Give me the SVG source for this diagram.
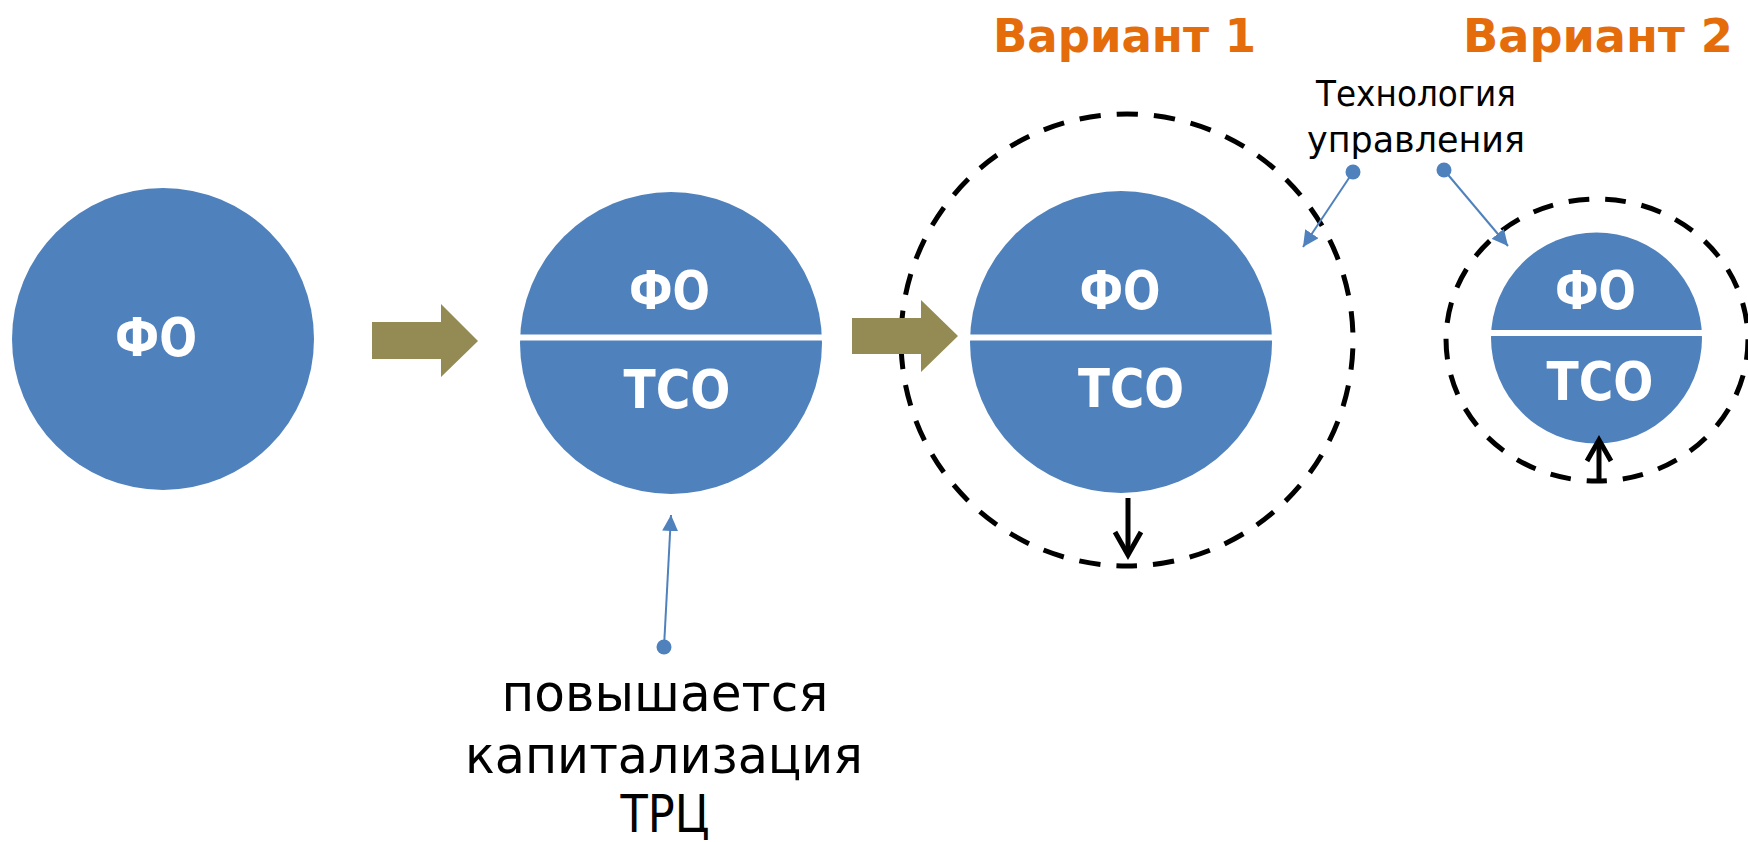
<svg xmlns="http://www.w3.org/2000/svg" width="1748" height="842" viewBox="0 0 1748 842">
  <defs>
    <style>
      .disc { fill: #4F81BD; }
      .divider { stroke: #FFFFFF; stroke-width: 6; }
      .lbl { fill: #FFFFFF; font-family: "DejaVu Sans", "Liberation Sans", sans-serif; font-weight: bold; font-size: 53px; text-anchor: middle; }
      .title { fill: #E46C0A; font-family: "DejaVu Sans", "Liberation Sans", sans-serif; font-weight: bold; font-size: 47px; text-anchor: middle; }
      .note { fill: #000000; font-family: "DejaVu Sans", "Liberation Sans", sans-serif; text-anchor: middle; }
      .dashed { fill: none; stroke: #000000; stroke-width: 5; }
      .olive { fill: #948A54; }
      .callout { stroke: #4F81BD; stroke-width: 2; fill: none; }
      .dot { fill: #4F81BD; }
      .blk { stroke: #000000; stroke-width: 5; fill: none; }
    </style>
    <marker id="blueArrow" markerWidth="16" markerHeight="16" refX="16" refY="8" orient="auto" markerUnits="userSpaceOnUse">
      <path d="M0,0 L16,8 L0,16 z" fill="#4F81BD"/>
    </marker>
  </defs>

  <!-- Node 1: ФО -->
  <g id="node-fo">
    <circle class="disc" cx="163" cy="339" r="151"/>
    <text class="lbl" x="156" y="356" textLength="82" lengthAdjust="spacingAndGlyphs">ФО</text>
  </g>

  <!-- Node 2: ФО / ТСО -->
  <g id="node-fo-tso">
    <circle class="disc" cx="671" cy="343" r="151"/>
    <line class="divider" x1="519" y1="337.5" x2="823" y2="337.5"/>
    <text class="lbl" x="669.5" y="309" textLength="81" lengthAdjust="spacingAndGlyphs">ФО</text>
    <text class="lbl" x="677" y="408" textLength="107" lengthAdjust="spacingAndGlyphs">ТСО</text>
  </g>

  <!-- Node 3: Вариант 1 -->
  <g id="node-variant1">
    <text class="title" x="1124.5" y="52" textLength="263" lengthAdjust="spacingAndGlyphs">Вариант 1</text>
    <path class="dashed" d="M1127,566 A226,226 0 0 1 1127,114 A226,226 0 0 1 1127,566" stroke-dasharray="21.37 16" stroke-dashoffset="10.7"/>
    <circle class="disc" cx="1121" cy="342" r="151"/>
    <line class="divider" x1="969" y1="337.5" x2="1273" y2="337.5"/>
    <text class="lbl" x="1120" y="309" textLength="81" lengthAdjust="spacingAndGlyphs">ФО</text>
    <text class="lbl" x="1131" y="407" textLength="106" lengthAdjust="spacingAndGlyphs">ТСО</text>
  </g>

  <!-- Node 4: Вариант 2 -->
  <g id="node-variant2">
    <text class="title" x="1598" y="52" textLength="270" lengthAdjust="spacingAndGlyphs">Вариант 2</text>
    <path class="dashed" d="M1597,481 A151,141 0 0 1 1597,199 A151,141 0 0 1 1597,481" stroke-dasharray="20.7 16" stroke-dashoffset="10.35"/>
    <circle class="disc" cx="1596.5" cy="338" r="105.5"/>
    <line class="divider" x1="1490" y1="333" x2="1703" y2="333"/>
    <text class="lbl" x="1595.5" y="309" textLength="81" lengthAdjust="spacingAndGlyphs">ФО</text>
    <text class="lbl" x="1600" y="400" textLength="107" lengthAdjust="spacingAndGlyphs">ТСО</text>
  </g>

  <!-- Label: Технология управления -->
  <g id="label-tech">
    <text class="note" x="1416" y="106" font-size="35" textLength="200" lengthAdjust="spacingAndGlyphs">Технология</text>
    <text class="note" x="1416" y="152" font-size="35" textLength="218" lengthAdjust="spacingAndGlyphs">управления</text>
  </g>

  <!-- Label: повышается капитализация ТРЦ -->
  <g id="label-cap">
    <text class="note" x="665" y="711" font-size="52" textLength="327" lengthAdjust="spacingAndGlyphs">повышается</text>
    <text class="note" x="664" y="773" font-size="52" textLength="398" lengthAdjust="spacingAndGlyphs">капитализация</text>
    <text class="note" x="665" y="832" font-size="51" textLength="89" lengthAdjust="spacingAndGlyphs">ТРЦ</text>
  </g>

  <!-- Connectors -->
  <g id="connectors">
    <polygon class="olive" points="372,322 441,322 441,304 478,341 441,377 441,359 372,359"/>
    <polygon class="olive" points="852,318 921,318 921,300 958,336 921,372 921,354 852,354"/>

    <line class="callout" x1="664" y1="647" x2="671" y2="515" marker-end="url(#blueArrow)"/>
    <circle class="dot" cx="664" cy="647" r="7.5"/>

    <line class="callout" x1="1353" y1="172" x2="1303" y2="247" marker-end="url(#blueArrow)"/>
    <circle class="dot" cx="1353" cy="172" r="7.5"/>

    <line class="callout" x1="1444" y1="170" x2="1508" y2="246" marker-end="url(#blueArrow)"/>
    <circle class="dot" cx="1444" cy="170" r="7.5"/>

    <line class="blk" x1="1128" y1="498" x2="1128" y2="553"/>
    <polyline class="blk" points="1115,532 1128,555 1141,532"/>

    <line class="blk" x1="1599" y1="481" x2="1599" y2="442"/>
    <polyline class="blk" points="1587,461 1599,440 1611,461"/>
  </g>
</svg>
